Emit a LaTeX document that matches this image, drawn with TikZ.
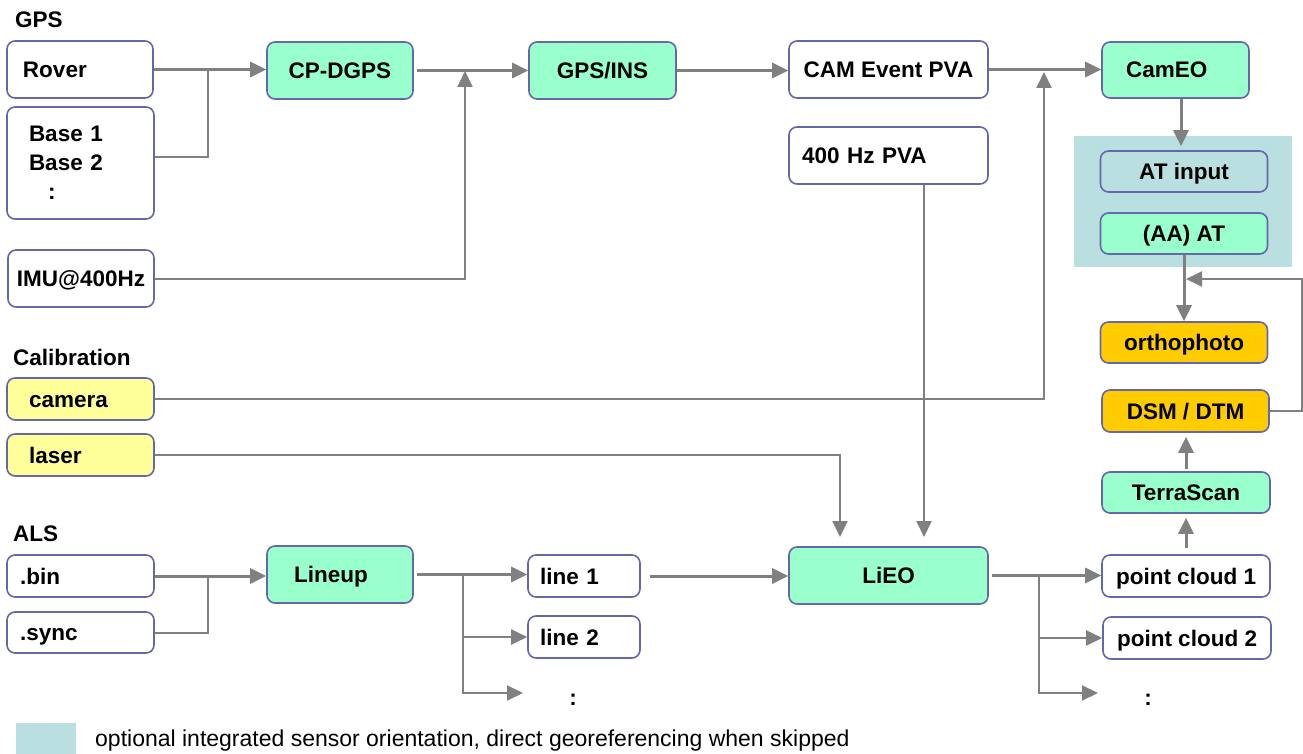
\documentclass[tikz,border=0pt]{standalone}
\usepackage{fontspec}
\setmainfont{Liberation Sans}
\usepackage{tikz}
\usetikzlibrary{arrows.meta, calc, positioning}
\definecolor{boxborder}{HTML}{6666AA}
\definecolor{procgreen}{HTML}{99FFCC}
\definecolor{optblue}{HTML}{B9DFE0}
\definecolor{resultorange}{HTML}{FFCC00}
\definecolor{calibyellow}{HTML}{FFFF99}
\definecolor{linegray}{HTML}{808080}
\newcommand{\boxfont}{\fontsize{22.5}{29}\selectfont\bfseries}
\tikzset{
    boxnode/.style = {draw=boxborder, rectangle, rounded corners=8pt, line width=1.6pt,
      inner sep=0pt, font=\boxfont, text height=16pt, text depth=0pt},
    whitenode/.style = {boxnode, fill=white},
    greennode/.style = {boxnode, fill=procgreen},
    bluenode/.style = {boxnode, fill=optblue},
    orangenode/.style = {boxnode, fill=resultorange},
    yellownode/.style = {boxnode, fill=calibyellow},
    boxsize/.style 2 args = {minimum width=#1, minimum height=#2},
    lefttext/.style 2 args = {align=left, inner xsep=#1, text width=#2},
    labelnode/.style = {draw=none, fill=none, rectangle, inner sep=0pt, anchor=west,
      font=\boxfont, text height=16pt, text depth=0pt},
    textnode/.style = {draw=none, fill=none, rectangle, inner sep=0pt, font=\fontsize{23}{27}\selectfont},
    connect/.style = {linegray, line width=3pt, -{Triangle[length=16pt, width=15pt]}},
    thinconnect/.style = {connect, line width=2pt},
    branch/.style = {linegray, line width=2pt},
}

\begin{document}
\begin{tikzpicture}[x=1pt, y=-1pt]
    \useasboundingbox (0,0) rectangle (1303,754);

    % optional block behind the AT boxes
    \node [draw=none, fill=optblue, rectangle, boxsize={218pt}{131pt}, name=optregion] at (1183,201.5) {};

    % GPS
    \node [labelnode, name=gpslabel] at (15,20) {GPS};
    \node [whitenode, boxsize={146pt}{57pt}, lefttext={16pt}{114pt}, name=rover] at (80,69.5) {Rover};
    \node [whitenode, boxsize={147pt}{112pt}, lefttext={22pt}{103pt}, text height={}, text depth={},
      name=base] at (80.5,163) {Base 1\\Base 2\\\hspace*{19pt}:};
    \node [whitenode, boxsize={146pt}{57pt}, name=imu] at (81,278.5) {IMU@400Hz};

    \node [greennode, boxsize={146pt}{57pt}, name=cpdgps] at (340,70.5) {CP-DGPS};
    \node [greennode, boxsize={147pt}{57pt}, name=gpsins] at (602.5,70.5) {GPS/INS};
    \node [whitenode, boxsize={199pt}{57pt}, name=campva] at (888.5,69.5) {CAM Event PVA};
    \node [whitenode, boxsize={199pt}{57pt}, lefttext={13pt}{173pt}, name=pva] at (888.5,155.5) {400 Hz PVA};
    \node [greennode, boxsize={147pt}{56pt}, lefttext={24pt}{99pt}, name=cameo] at (1175.5,70) {CamEO};

    % photogrammetric chain
    \node [bluenode, boxsize={167pt}{41pt}, name=atinput] at (1184,171.5) {AT input};
    \node [greennode, boxsize={167pt}{41pt}, name=aaat] at (1184,233.5) {(AA) AT};
    \node [orangenode, boxsize={167pt}{41pt}, name=ortho] at (1184,342.5) {orthophoto};
    \node [orangenode, boxsize={167pt}{42pt}, name=dsm] at (1185.5,411) {DSM / DTM};
    \node [greennode, boxsize={168pt}{41pt}, name=terra] at (1186,492.5) {TerraScan};

    % Calibration
    \node [labelnode, name=caliblabel] at (13,357) {Calibration};
    \node [yellownode, boxsize={147pt}{42pt}, lefttext={22pt}{103pt}, name=camera] at (80.5,399) {camera};
    \node [yellownode, boxsize={147pt}{42pt}, lefttext={22pt}{103pt}, name=laser] at (80.5,455) {laser};

    % ALS
    \node [labelnode, name=alslabel] at (13,533) {ALS};
    \node [whitenode, boxsize={147pt}{42pt}, lefttext={13pt}{121pt}, name=bin] at (80.5,576) {.bin};
    \node [whitenode, boxsize={147pt}{41pt}, lefttext={13pt}{121pt}, name=sync] at (80.5,632.5) {.sync};
    \node [greennode, boxsize={146pt}{57pt}, lefttext={27pt}{92pt}, name=lineup] at (340,574.5) {Lineup};
    \node [whitenode, boxsize={112pt}{42pt}, lefttext={12pt}{88pt}, name=line1] at (584,576) {line 1};
    \node [whitenode, boxsize={112pt}{42pt}, lefttext={12pt}{88pt}, name=line2] at (584,637) {line 2};
    \node [labelnode, anchor=center, name=linedots] at (573,697) {:};
    \node [greennode, boxsize={199pt}{57pt}, name=lieo] at (888.5,575.5) {LiEO};
    \node [whitenode, boxsize={168pt}{42pt}, name=pc1] at (1186,576) {point cloud 1};
    \node [whitenode, boxsize={168pt}{42pt}, name=pc2] at (1187,638) {point cloud 2};
    \node [labelnode, anchor=center, name=pcdots] at (1148,697) {:};

    % legend
    \node [draw=none, fill=optblue, rectangle, boxsize={60pt}{32pt}, name=legendbox] at (46,739) {};
    \node [textnode, anchor=west, name=legendtext] at (95,741)
      {optional integrated sensor orientation, direct georeferencing when skipped};

    % junction points
    \coordinate (gpsjoin) at (208,69.5);
    \coordinate (imujoin) at (465,71);
    \coordinate (camjoin) at (1044,72);
    \coordinate (fbcorner) at (1302,279);
    \coordinate (fbend) at (1186,279);
    \coordinate (laserin) at (840,547);
    \coordinate (pvain) at (924,547);
    \coordinate (binjoin) at (208,576);
    \coordinate (linesplit) at (463,576);
    \coordinate (linemore) at (523,693);
    \coordinate (pcsplit) at (1039,576);
    \coordinate (pcmore) at (1098,693);

    % GPS flow
    \draw [connect] (rover.east) -- (rover.east -| cpdgps.west);
    \draw [branch] ([yshift=6pt]base.east) -| (gpsjoin);
    \draw [connect, shorten <=3pt] (cpdgps.east) -- (cpdgps.east -| gpsins.west);
    \draw [thinconnect] (imu.east) -| (imujoin);
    \draw [connect] (gpsins.east) -- (gpsins.east -| campva.west);
    \draw [connect] (campva.east) -- (campva.east -| cameo.west);
    \draw [thinconnect] (camera.east) -| (camjoin);

    % images
    \draw [connect, shorten >=4pt] ([xshift=5.5pt]cameo.south) -- ([xshift=5.5pt]cameo.south |- atinput.north);
    \draw [connect] (aaat.south) -- (aaat.south |- ortho.north);
    \draw [thinconnect] (dsm.east) -| (fbcorner) -- (fbend);
    \draw [connect, shorten <=2pt, shorten >=4pt] (terra.north) -- (terra.north |- dsm.south);
    \draw [connect, shorten <=6pt, shorten >=4pt] (pc1.north) -- (pc1.north |- terra.south);

    % laser flow
    \draw [thinconnect, shorten >=10pt] (laser.east) -| (laserin);
    \draw [thinconnect, shorten >=10pt] (pva.south -| pvain) -- (pvain);
    \draw [connect] (bin.east) -- (bin.east -| lineup.west);
    \draw [branch] (sync.east) -| (binjoin);
    \draw [connect, shorten <=3pt] (lineup.east) -- (lineup.east -| line1.west);
    \draw [thinconnect] (linesplit) |- (line2.west);
    \draw [thinconnect] (linesplit) |- (linemore);
    \draw [connect, shorten <=9pt] (line1.east) -- (line1.east -| lieo.west);
    \draw [connect, shorten <=3pt] (lieo.east) -- (lieo.east -| pc1.west);
    \draw [thinconnect] (pcsplit) |- (pc2.west);
    \draw [thinconnect] (pcsplit) |- (pcmore);
\end{tikzpicture}
\end{document}
